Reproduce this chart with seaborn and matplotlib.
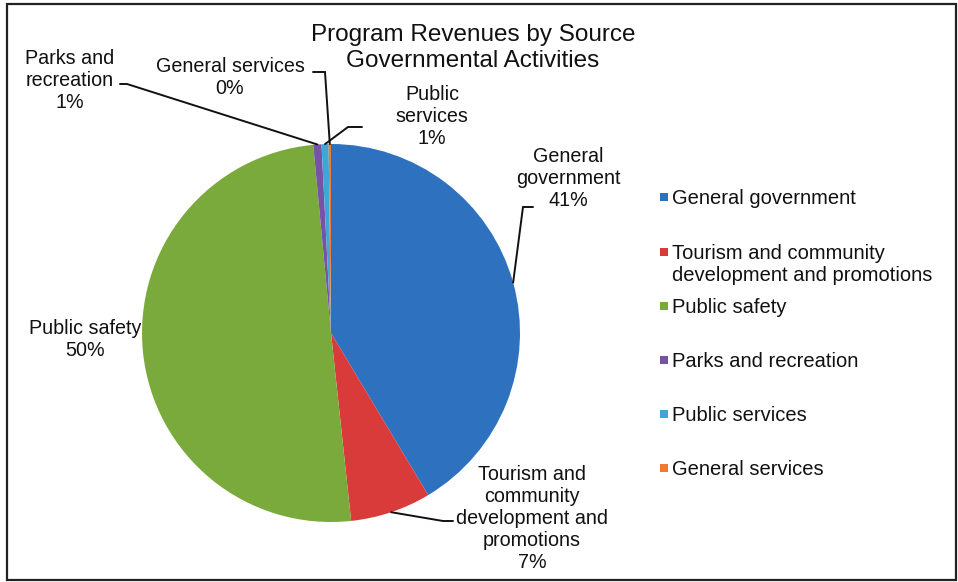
import numpy as np
import matplotlib
matplotlib.use("Agg")
import matplotlib.pyplot as plt
from matplotlib.patches import Rectangle
import seaborn as sns

# Revenue shares (percent of program revenues) by source
categories = [
    "General government",
    "Tourism and community development and promotions",
    "Public safety",
    "Parks and recreation",
    "Public services",
    "General services",
]
shares = [41.4, 6.9, 50.2, 0.7, 0.6, 0.2]

slice_names = [
    "General\ngovernment",
    "Tourism and\ncommunity\ndevelopment and\npromotions",
    "Public safety",
    "Parks and\nrecreation",
    "Public\nservices",
    "General services",
]
legend_names = [
    "General government",
    "Tourism and community\ndevelopment and promotions",
    "Public safety",
    "Parks and recreation",
    "Public services",
    "General services",
]
colors = ["#2E72BF", "#D93A3A", "#7BAA3C", "#7753A6", "#3CA8D8", "#F27830"]

sns.set_theme(style="white")
plt.rcParams["font.family"] = ["Liberation Sans", "DejaVu Sans"]

W, H = 958, 582
fig = plt.figure(figsize=(W / 100, H / 100), dpi=100)
ax = fig.add_axes([0, 0, 1, 1])

cx, cy, R = 331, H - 333, 189
wedges, _ = ax.pie(shares, colors=colors, startangle=90, counterclock=False,
                   center=(cx, cy), radius=R,
                   wedgeprops=dict(linewidth=0.6, edgecolor="none"))
ax.set_xlim(0, W)
ax.set_ylim(0, H)
ax.set_aspect("auto")
ax.axis("off")

def Y(py):
    return H - py

# outer frame
ax.add_patch(Rectangle((7, Y(580)), 949, 576, fill=False,
                       edgecolor="#222222", linewidth=1.6, clip_on=False))

ax.text(473, Y(48), "Program Revenues by Source\nGovernmental Activities",
        ha="center", va="center", fontsize=17.5, color="#111111",
        linespacing=1.25)

# slice labels: (text centre x, y) and leader (elbow, end) points
label_pos = [(568, 178), (532, 518), (85, 339), (70, 80), (432, 116), (230, 78)]
leaders = [
    ((523, 207), (533, 207)),
    ((443, 521), (453, 521)),
    None,
    ((127, 84), (120, 84)),
    ((348, 127), (362, 127)),
    ((325, 72), (313, 72)),
]

total = sum(shares)
cum = np.cumsum([0] + shares)
for i, (name, v) in enumerate(zip(slice_names, shares)):
    lx, ly = label_pos[i]
    ax.text(lx, Y(ly), f"{name}\n{round(v)}%", ha="center", va="center",
            fontsize=14.2, color="#111111", linespacing=1.2)
    if leaders[i] is None:
        continue
    mid = (cum[i] + v / 2) / total * 2 * np.pi
    sx = cx + R * np.sin(mid)
    sy = cy + R * np.cos(mid)
    (ex, ey), (tx, ty) = leaders[i]
    ax.plot([sx, ex, tx], [sy, Y(ey), Y(ty)], color="#111111", lw=1.4,
            solid_joinstyle="miter", clip_on=False)

# legend
legend_y = [197, 252, 306, 360, 414, 468]
for name, c, ly in zip(legend_names, colors, legend_y):
    ax.add_patch(Rectangle((660, Y(ly) - 4), 8, 8, facecolor=c,
                           edgecolor="none"))
    ax.text(672, Y(ly) + 8, name, ha="left", va="top", fontsize=14.5,
            color="#111111", linespacing=1.2)

fig.savefig("out.png", dpi=100, facecolor="white")
